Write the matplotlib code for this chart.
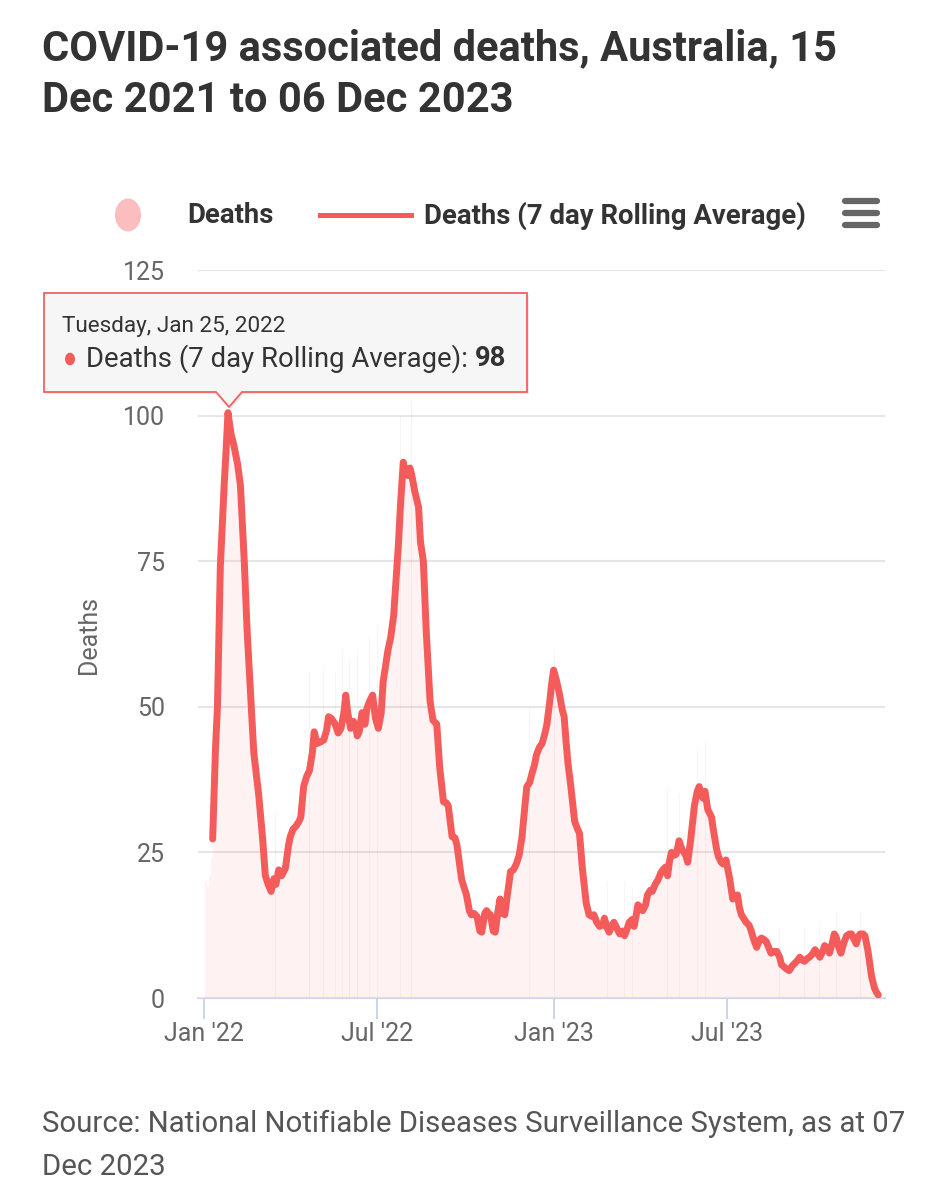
import datetime as dt
import matplotlib
matplotlib.use("Agg")
import matplotlib.pyplot as plt
import matplotlib.dates as mdates
from matplotlib.patches import Polygon, Circle
from matplotlib.lines import Line2D
import numpy as np

# ---------------- data (day offsets from 2022-01-01) ----------------
ravg_day = [
    9, 12, 14, 17, 21, 23, 25, 28, 31, 35,
    38, 42, 45, 49, 52, 57, 61, 64, 67, 70,
    73, 75, 78, 81, 85, 88, 90, 93, 96, 99,
    101, 104, 107, 110, 113, 115, 118, 122, 125, 128,
    130, 133, 137, 140, 143, 146, 148, 150, 153, 156,
    158, 160, 162, 165, 168, 170, 173, 176, 179, 182,
    185, 187, 190, 192, 195, 198, 201, 203, 205, 208,
    210, 213, 215, 217, 220, 224, 226, 229, 232, 236,
    239, 243, 246, 250, 253, 255, 259, 262, 264, 269,
    274, 277, 279, 282, 285, 288, 290, 293, 295, 297,
    299, 302, 304, 307, 309, 312, 314, 317, 320, 323,
    326, 329, 332, 335, 337, 340, 342, 345, 347, 350,
    353, 356, 358, 361, 363, 365, 368, 371, 374, 376,
    378, 380, 383, 387, 390, 392, 395, 399, 402, 405,
    407, 410, 413, 416, 418, 421, 423, 426, 428, 431,
    434, 437, 439, 442, 444, 447, 449, 451, 453, 456,
    458, 461, 463, 466, 468, 471, 474, 477, 479, 482,
    484, 486, 488, 491, 493, 496, 499, 501, 503, 505,
    508, 510, 512, 515, 517, 519, 521, 523, 526, 528,
    530, 531, 533, 535, 537, 540, 542, 545, 547, 549,
    552, 555, 557, 559, 561, 564, 566, 569, 571, 574,
    577, 580, 582, 585, 587, 590, 592, 595, 598, 601,
    603, 606, 608, 611, 614, 617, 620, 622, 625, 627,
    630, 632, 635, 638, 641, 643, 646, 648, 651, 653,
    656, 658, 660, 662, 665, 668, 671, 674, 676, 679,
    681, 683, 685, 688, 690, 693, 695, 697, 700, 702,
    704,
]
ravg_val = [
    27.3, 43, 50, 74, 88, 94, 100.5, 97, 95, 91.7,
    88, 75, 63, 51, 42, 35, 27.7, 21, 19.5, 18.3,
    20.5, 19.5, 22, 21, 22.3, 26, 27.7, 29, 29.5, 30.3,
    31, 36.3, 38, 39, 42, 45.7, 43.7, 44, 44.3, 46,
    48.3, 48, 47, 45.5, 46.3, 49, 52, 49, 46.3, 47.5,
    47, 45, 45.7, 49, 47, 49.7, 51, 52, 48, 46.3,
    49, 54.3, 57.5, 59.7, 62, 65.7, 73, 78, 84.3, 92,
    90.5, 89.7, 91, 89.7, 87, 84.3, 78.3, 75, 63, 51,
    47.7, 47, 39.7, 33.7, 33.5, 33, 27.7, 27.5, 26.3, 20.3,
    17.7, 15, 14.3, 14.5, 14, 11.5, 11.3, 14.5, 15, 14.5,
    14.3, 11.5, 11.3, 15, 17, 14.5, 14.3, 18, 21.7, 22,
    23, 24.5, 27.7, 33, 36.3, 37, 38.3, 40, 41.7, 43,
    43.7, 45.5, 47, 51, 54, 56.3, 54.5, 52.3, 49.5, 48.3,
    44, 40.3, 36.3, 30.3, 29, 28.3, 22.3, 16.3, 14.3, 14,
    14.3, 13, 12.3, 12.5, 13.7, 12, 11.3, 12.5, 13, 12,
    11, 11.5, 10.7, 12, 13, 13.5, 12.3, 14, 16, 15.5,
    15, 16, 17.7, 18.5, 18.3, 19.5, 20.3, 21.5, 22, 22.5,
    21, 23.5, 25, 24.5, 24.7, 27, 25.5, 25, 24.5, 23.3,
    27, 30, 33, 35.5, 36.3, 35, 34.3, 35.5, 32.3, 31.7,
    31, 29.7, 27.7, 25.7, 24.3, 23.3, 23, 23.7, 22, 20.3,
    17, 17.5, 17.7, 15.5, 14.3, 13.5, 13, 12.5, 11.7, 10,
    8.7, 10, 10.3, 10, 9.7, 8.5, 7.7, 8, 8, 7,
    5.7, 5.3, 5, 4.7, 5.5, 6, 6.5, 7, 6.5, 6.3,
    6.8, 7, 7.5, 8.3, 7.5, 7, 8, 9, 8.5, 7.7,
    9.5, 11, 10.5, 9, 7.7, 9.5, 10.7, 11, 11, 10,
    9.3, 10.5, 11, 11, 10.7, 8.3, 6, 3.7, 1.7, 1,
    0.5,
]

# daily deaths (columns), sampled on the same grid plus the first days
deaths_day = [1, 3, 5, 7] + ravg_day
deaths_val = [
    20, 19, 21, 24,
    27, 43, 50, 74, 88, 94, 100, 97, 95, 92,
    88, 75, 63, 51, 42, 35, 28, 21, 20, 18,
    21, 20, 22, 21, 22, 26, 28, 29, 30, 30,
    31, 36, 38, 39, 42, 46, 44, 44, 44, 46,
    48, 48, 47, 46, 46, 49, 52, 49, 46, 48,
    47, 45, 46, 49, 47, 50, 51, 52, 48, 46,
    49, 54, 58, 60, 62, 66, 73, 78, 84, 92,
    91, 90, 91, 90, 87, 84, 78, 75, 63, 51,
    48, 47, 40, 34, 34, 33, 28, 28, 26, 20,
    18, 15, 14, 15, 14, 12, 11, 15, 15, 15,
    14, 12, 11, 15, 17, 15, 14, 18, 22, 22,
    23, 25, 28, 33, 36, 37, 38, 40, 42, 43,
    44, 46, 47, 51, 54, 56, 55, 52, 50, 48,
    44, 40, 36, 30, 29, 28, 22, 16, 14, 14,
    14, 13, 12, 13, 14, 12, 11, 13, 13, 12,
    11, 12, 11, 12, 13, 14, 12, 14, 16, 16,
    15, 16, 18, 19, 18, 20, 20, 22, 22, 23,
    21, 24, 25, 25, 25, 27, 26, 25, 25, 23,
    27, 30, 33, 36, 36, 35, 34, 36, 32, 32,
    31, 30, 28, 26, 24, 23, 23, 24, 22, 20,
    17, 18, 18, 16, 14, 14, 13, 13, 12, 10,
    9, 10, 10, 10, 10, 9, 8, 8, 8, 7,
    6, 5, 5, 5, 6, 6, 7, 7, 7, 6,
    7, 7, 8, 8, 8, 7, 8, 9, 9, 8,
    10, 11, 11, 9, 8, 10, 11, 11, 11, 10,
    9, 11, 11, 11, 11, 8, 6, 4, 2, 1,
    0,
]

# individual high days visible as spikes above the average
spike_day = [75, 110, 118, 125, 137, 145, 152, 160, 165, 173, 181, 205, 217,
             340, 366, 421, 439, 447, 484, 496, 515, 524, 601, 627, 643, 660, 685]
spike_val = [32, 56, 55, 57, 56, 60, 58, 60, 58, 62, 64, 100, 103,
             50, 60, 20, 20, 19, 36, 35, 43, 44, 12, 12, 13, 15, 15]

y_ticks = [0, 25, 50, 75, 100, 125]
title_lines = ["COVID-19 associated deaths, Australia, 15", "Dec 2021 to 06 Dec 2023"]
legend_labels = ["Deaths", "Deaths (7 day Rolling Average)"]
tooltip_date = "Tuesday, Jan 25, 2022"
tooltip_series = "Deaths (7 day Rolling Average): "
tooltip_value = "98"
source_lines = ["Source: National Notifiable Diseases Surveillance System, as at 07", "Dec 2023"]

# ---------------- styling ----------------
W, H = 949, 1200
FONT = "Roboto"
LINE_C = "#f45b5b"
plt.rcParams["font.family"] = [FONT, "DejaVu Sans"]

fig = plt.figure(figsize=(W / 100, H / 100), dpi=100)
fig.patch.set_facecolor("white")


def fx(x):
    return x / W


def fy(y):
    return 1 - y / H


# axes in pixel geometry
L, R, T, B = 198, 885, 270, 998
ax = fig.add_axes([fx(L), fy(B), (R - L) / W, (B - T) / H])
base = mdates.date2num(dt.datetime(2022, 1, 1))
x0, x1 = base - 6.3, base + 711

# deaths columns (stairs = contiguous columns)
edges = [base + d for d in deaths_day] + [base + deaths_day[-1] + 1]
ax.stairs(deaths_val, edges, fill=True, color=LINE_C, alpha=0.08, lw=0, zorder=1)
ax.bar([base + d for d in spike_day], spike_val, width=0.9, color=LINE_C,
       alpha=0.08, lw=0, zorder=1)

# rolling average line
ax.plot([base + d for d in ravg_day], ravg_val, color=LINE_C, lw=5.0,
        solid_joinstyle="round", solid_capstyle="round", zorder=3)

ax.set_xlim(x0, x1)
ax.set_ylim(0, 125)
ax.set_yticks(y_ticks)
ax.yaxis.grid(True, color="#e6e6e6", lw=1.5, zorder=0)
ax.set_axisbelow(True)
for s in ["top", "right", "left"]:
    ax.spines[s].set_visible(False)
ax.spines["bottom"].set_color("#ccd6eb")
ax.spines["bottom"].set_linewidth(1.5)
ax.spines["bottom"].set_zorder(0.5)
ax.tick_params(axis="y", length=0, pad=24, labelsize=18, labelcolor="#666666")
ax.xaxis.set_major_locator(mdates.MonthLocator(bymonth=[1, 7]))
ax.xaxis.set_major_formatter(mdates.DateFormatter("%b '%y"))
ax.tick_params(axis="x", length=15, width=1.5, color="#ccd6eb", pad=2,
               labelsize=18, labelcolor="#666666")
for lab in ax.get_yticklabels() + ax.get_xticklabels():
    lab.set_fontfamily(FONT)
ax.set_facecolor("none")

# y axis title
fig.text(fx(89), fy(635), "Deaths", rotation=90, ha="center", va="center",
         fontsize=18, color="#666666", family=FONT)

# title
fig.text(fx(42), fy(60), title_lines[0], fontsize=30, fontweight="bold",
         color="#333333", family=FONT, va="baseline", ha="left")
fig.text(fx(42), fy(112), title_lines[1], fontsize=30, fontweight="bold",
         color="#333333", family=FONT, va="baseline", ha="left")

# legend
fig.patches.append(Circle((fx(128), fy(215)), 13 / W, transform=fig.transFigure,
                          facecolor="#fbbdbd", edgecolor="none"))
fig.text(fx(187), fy(216), legend_labels[0], fontsize=19.8, fontweight="bold",
         color="#333333", family=FONT, va="center", ha="left")
fig.lines.append(Line2D([fx(320), fx(411)], [fy(215), fy(215)], transform=fig.transFigure,
                        color=LINE_C, lw=3.6))
fig.text(fx(424), fy(216), legend_labels[1], fontsize=19.8, fontweight="bold",
         color="#333333", family=FONT, va="center", ha="left")

# menu icon
for yy in [201, 213, 225]:
    fig.lines.append(Line2D([fx(845), fx(877)], [fy(yy), fy(yy)], transform=fig.transFigure,
                            color="#666666", lw=4.5, solid_capstyle="round"))

# tooltip
bx0, bx1, by0, by1 = 44, 527, 293, 392
px, py = 229, 407
pts = [(bx0, by0), (bx1, by0), (bx1, by1), (px + 13, by1), (px, py), (px - 13, by1), (bx0, by1)]
shadow = Polygon([(fx(x + 2), fy(y + 2)) for x, y in pts], closed=True,
                 transform=fig.transFigure, facecolor="#000000", alpha=0.08,
                 edgecolor="none", zorder=9)
fig.patches.append(shadow)
tip = Polygon([(fx(x), fy(y)) for x, y in pts], closed=True, transform=fig.transFigure,
              facecolor="#f7f7f7", edgecolor=LINE_C, lw=1.3, alpha=0.97, zorder=10)
fig.patches.append(tip)
fig.text(fx(62), fy(326), tooltip_date, fontsize=16.2, color="#333333", family=FONT,
         va="center", ha="left", zorder=11)
fig.patches.append(Circle((fx(70), fy(359)), 5 / W, transform=fig.transFigure,
                          facecolor=LINE_C, edgecolor="none", zorder=11))
t1 = fig.text(fx(86), fy(359), tooltip_series, fontsize=19.8, color="#333333", family=FONT,
              va="center", ha="left", zorder=11)
fig.canvas.draw()
bb = t1.get_window_extent()
fig.text(bb.x1 / W, fy(359), tooltip_value, fontsize=19.8, fontweight="bold",
         color="#333333", family=FONT, va="center", ha="left", zorder=11)

# source
fig.text(fx(42), fy(1132), source_lines[0], fontsize=21.2, color="#555555", family=FONT,
         va="baseline", ha="left")
fig.text(fx(42), fy(1175), source_lines[1], fontsize=21.2, color="#555555", family=FONT,
         va="baseline", ha="left")

fig.savefig("out.png", dpi=100, facecolor="white")
